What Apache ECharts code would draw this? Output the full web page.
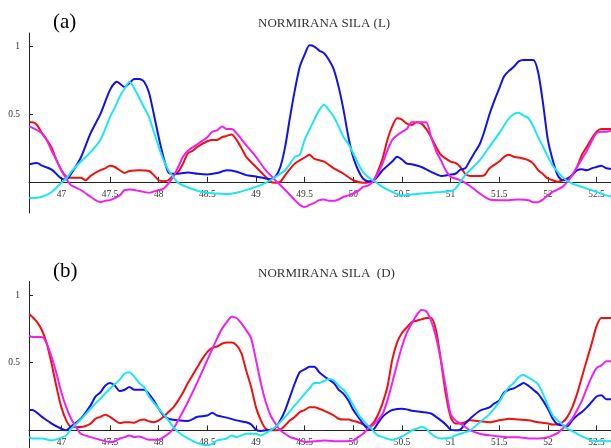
<!DOCTYPE html>
<html>
<head>
<meta charset="utf-8">
<script src="https://cdn.jsdelivr.net/npm/echarts@6/dist/echarts.min.js"></script>
<style>html,body{margin:0;padding:0;background:#fff}#c{width:611px;height:448px}</style>
</head>
<body>
<div id="c"></div>
<script>
const panelLabels = ['(a)', '(b)'];
const panelTitles = ['NORMIRANA SILA (L)', 'NORMIRANA SILA  (D)'];
const xTicks = [47, 47.5, 48, 48.5, 49, 49.5, 50, 50.5, 51, 51.5, 52, 52.5];
const yTicks = [0.5, 1];

// Panel (a)
const aBlue = [[46.67,0.13],[46.75,0.14],[46.8,0.12],[46.9,0.09],[47.0,0.025],[47.05,0.02],[47.1,0.06],[47.2,0.18],[47.3,0.36],[47.4,0.5],[47.5,0.68],[47.57,0.74],[47.65,0.7],[47.7,0.73],[47.75,0.76],[47.8,0.76],[47.85,0.74],[47.9,0.66],[47.95,0.5],[48.0,0.33],[48.05,0.18],[48.1,0.07],[48.15,0.06],[48.2,0.06],[48.3,0.07],[48.4,0.06],[48.5,0.055],[48.6,0.065],[48.7,0.085],[48.8,0.075],[48.9,0.05],[49.0,0.04],[49.1,0.025],[49.15,0.02],[49.2,0.04],[49.25,0.11],[49.3,0.26],[49.35,0.48],[49.4,0.68],[49.45,0.85],[49.5,0.94],[49.55,1.01],[49.6,1.0],[49.65,0.97],[49.7,0.95],[49.75,0.9],[49.8,0.83],[49.85,0.7],[49.9,0.53],[49.95,0.33],[50.0,0.18],[50.05,0.086],[50.1,0.025],[50.15,0.005],[50.2,0.007],[50.25,0.04],[50.3,0.086],[50.4,0.15],[50.45,0.185],[50.5,0.165],[50.55,0.135],[50.6,0.13],[50.7,0.11],[50.8,0.074],[50.9,0.044],[51.0,0.054],[51.05,0.06],[51.1,0.09],[51.15,0.1],[51.2,0.16],[51.25,0.22],[51.3,0.28],[51.35,0.38],[51.4,0.5],[51.45,0.6],[51.5,0.69],[51.55,0.78],[51.6,0.82],[51.65,0.85],[51.7,0.89],[51.75,0.9],[51.8,0.9],[51.85,0.9],[51.9,0.81],[51.95,0.58],[52.0,0.31],[52.05,0.16],[52.1,0.05],[52.15,0.012],[52.2,0.02],[52.25,0.05],[52.3,0.086],[52.35,0.094],[52.4,0.086],[52.45,0.1],[52.5,0.11],[52.55,0.12],[52.6,0.1],[52.7,0.094]];
const aCyan = [[46.67,-0.115],[46.7,-0.12],[46.8,-0.11],[46.9,-0.075],[47.0,-0.007],[47.05,0.025],[47.1,0.074],[47.2,0.15],[47.3,0.22],[47.4,0.31],[47.45,0.39],[47.5,0.48],[47.55,0.55],[47.6,0.63],[47.65,0.69],[47.7,0.74],[47.75,0.69],[47.8,0.62],[47.85,0.55],[47.9,0.48],[47.95,0.37],[48.0,0.26],[48.05,0.16],[48.1,0.086],[48.15,0.037],[48.2,-0.007],[48.3,-0.04],[48.4,-0.065],[48.5,-0.08],[48.6,-0.086],[48.7,-0.09],[48.8,-0.08],[48.9,-0.06],[49.0,-0.037],[49.1,-0.007],[49.15,0.012],[49.2,0.037],[49.3,0.086],[49.4,0.185],[49.45,0.2],[49.5,0.31],[49.6,0.46],[49.65,0.53],[49.7,0.57],[49.75,0.53],[49.8,0.48],[49.85,0.41],[49.9,0.33],[49.95,0.28],[50.0,0.21],[50.05,0.135],[50.1,0.074],[50.15,0.037],[50.2,0.012],[50.25,-0.012],[50.3,-0.037],[50.4,-0.074],[50.5,-0.1],[50.6,-0.094],[50.7,-0.086],[50.8,-0.08],[50.9,-0.074],[51.0,-0.067],[51.05,-0.05],[51.1,0.0],[51.15,0.05],[51.2,0.086],[51.3,0.16],[51.4,0.26],[51.5,0.36],[51.6,0.47],[51.65,0.5],[51.7,0.51],[51.75,0.49],[51.8,0.47],[51.85,0.41],[51.9,0.33],[51.95,0.26],[52.0,0.185],[52.05,0.12],[52.1,0.074],[52.15,0.037],[52.2,0.007],[52.25,-0.012],[52.3,-0.025],[52.4,-0.05],[52.5,-0.074],[52.6,-0.1],[52.7,-0.115]];
const aRed = [[46.67,0.44],[46.7,0.44],[46.75,0.42],[46.8,0.36],[46.85,0.31],[46.9,0.25],[46.95,0.16],[47.0,0.086],[47.05,0.04],[47.1,0.03],[47.2,0.03],[47.25,0.012],[47.3,0.044],[47.4,0.086],[47.45,0.1],[47.5,0.12],[47.55,0.11],[47.6,0.086],[47.65,0.066],[47.7,0.08],[47.8,0.086],[47.9,0.08],[47.95,0.05],[48.0,0.012],[48.05,0.005],[48.1,0.012],[48.15,0.05],[48.2,0.074],[48.25,0.135],[48.3,0.21],[48.35,0.23],[48.4,0.26],[48.5,0.3],[48.55,0.31],[48.6,0.31],[48.65,0.33],[48.7,0.34],[48.75,0.35],[48.8,0.31],[48.85,0.25],[48.9,0.185],[49.0,0.11],[49.1,0.037],[49.15,0.0],[49.2,-0.007],[49.25,0.0],[49.3,0.05],[49.4,0.135],[49.5,0.18],[49.55,0.2],[49.6,0.17],[49.7,0.15],[49.8,0.1],[49.9,0.06],[50.0,0.012],[50.1,-0.007],[50.2,0.005],[50.25,0.074],[50.3,0.17],[50.35,0.31],[50.4,0.41],[50.45,0.47],[50.5,0.46],[50.55,0.43],[50.6,0.42],[50.65,0.44],[50.7,0.43],[50.75,0.39],[50.8,0.33],[50.85,0.26],[50.9,0.2],[51.0,0.15],[51.05,0.14],[51.1,0.11],[51.15,0.06],[51.2,0.044],[51.3,0.044],[51.35,0.05],[51.4,0.1],[51.5,0.15],[51.55,0.185],[51.6,0.2],[51.65,0.185],[51.7,0.18],[51.8,0.16],[51.85,0.135],[51.9,0.086],[51.95,0.057],[52.0,0.025],[52.05,0.012],[52.1,0.0],[52.15,0.012],[52.2,0.025],[52.25,0.05],[52.3,0.11],[52.35,0.2],[52.4,0.26],[52.45,0.32],[52.5,0.37],[52.55,0.39],[52.6,0.39],[52.7,0.39]];
const aMagenta = [[46.67,0.41],[46.7,0.4],[46.8,0.36],[46.85,0.31],[46.9,0.23],[46.95,0.16],[47.0,0.086],[47.05,0.025],[47.1,-0.025],[47.2,-0.06],[47.3,-0.11],[47.35,-0.135],[47.4,-0.15],[47.45,-0.14],[47.5,-0.135],[47.6,-0.1],[47.65,-0.06],[47.7,-0.057],[47.8,-0.067],[47.9,-0.08],[48.0,-0.06],[48.05,-0.05],[48.1,-0.012],[48.15,0.037],[48.2,0.11],[48.25,0.185],[48.3,0.23],[48.4,0.28],[48.5,0.33],[48.55,0.37],[48.6,0.38],[48.65,0.41],[48.7,0.39],[48.75,0.39],[48.8,0.36],[48.9,0.27],[49.0,0.185],[49.1,0.086],[49.2,0.012],[49.3,-0.06],[49.4,-0.135],[49.45,-0.17],[49.5,-0.185],[49.55,-0.17],[49.6,-0.155],[49.65,-0.135],[49.7,-0.13],[49.75,-0.14],[49.8,-0.14],[49.85,-0.13],[49.9,-0.11],[49.95,-0.1],[50.0,-0.086],[50.05,-0.067],[50.1,-0.037],[50.15,-0.027],[50.2,0.0],[50.25,0.06],[50.3,0.135],[50.35,0.23],[50.4,0.31],[50.45,0.345],[50.5,0.37],[50.55,0.39],[50.6,0.44],[50.65,0.44],[50.7,0.44],[50.75,0.44],[50.8,0.33],[50.85,0.23],[50.9,0.16],[50.95,0.086],[51.0,0.037],[51.05,0.025],[51.1,0.012],[51.15,-0.007],[51.2,-0.03],[51.3,-0.086],[51.4,-0.13],[51.5,-0.135],[51.6,-0.135],[51.7,-0.13],[51.8,-0.135],[51.85,-0.15],[51.9,-0.15],[51.95,-0.13],[52.0,-0.1],[52.05,-0.074],[52.1,-0.057],[52.15,-0.037],[52.2,0.0],[52.25,0.05],[52.3,0.11],[52.35,0.17],[52.4,0.23],[52.45,0.3],[52.5,0.36],[52.55,0.37],[52.6,0.37],[52.7,0.39]];

// Panel (b)
const bBlue = [[46.67,0.15],[46.7,0.15],[46.8,0.1],[46.9,0.05],[47.0,0.012],[47.05,0.0],[47.1,0.03],[47.2,0.086],[47.3,0.185],[47.35,0.25],[47.4,0.28],[47.45,0.33],[47.5,0.35],[47.55,0.33],[47.6,0.29],[47.65,0.3],[47.7,0.32],[47.75,0.3],[47.8,0.3],[47.85,0.3],[47.9,0.27],[47.95,0.22],[48.0,0.16],[48.05,0.11],[48.1,0.086],[48.2,0.074],[48.3,0.07],[48.4,0.1],[48.5,0.11],[48.55,0.13],[48.6,0.11],[48.7,0.094],[48.8,0.074],[48.9,0.06],[48.95,0.044],[49.0,0.005],[49.05,-0.005],[49.1,0.0],[49.15,0.005],[49.2,0.02],[49.25,0.074],[49.3,0.15],[49.35,0.25],[49.4,0.35],[49.45,0.43],[49.5,0.45],[49.55,0.47],[49.6,0.47],[49.65,0.43],[49.7,0.4],[49.75,0.375],[49.8,0.35],[49.85,0.3],[49.9,0.27],[49.95,0.22],[50.0,0.15],[50.05,0.1],[50.1,0.05],[50.15,0.012],[50.2,0.005],[50.25,0.05],[50.3,0.1],[50.35,0.13],[50.4,0.15],[50.5,0.16],[50.55,0.155],[50.6,0.145],[50.7,0.136],[50.8,0.125],[50.85,0.1],[50.9,0.074],[50.95,0.044],[51.0,0.005],[51.05,0.0],[51.1,0.005],[51.15,0.05],[51.2,0.086],[51.3,0.145],[51.4,0.17],[51.45,0.2],[51.5,0.22],[51.55,0.28],[51.6,0.3],[51.65,0.31],[51.7,0.33],[51.75,0.35],[51.8,0.33],[51.85,0.3],[51.9,0.27],[51.95,0.22],[52.0,0.16],[52.05,0.086],[52.1,0.044],[52.15,0.037],[52.2,0.03],[52.25,0.074],[52.3,0.11],[52.35,0.136],[52.4,0.17],[52.45,0.21],[52.5,0.25],[52.55,0.26],[52.6,0.23],[52.7,0.23]];
const bCyan = [[46.67,-0.05],[46.7,-0.06],[46.8,-0.06],[46.9,-0.074],[47.0,-0.054],[47.05,-0.037],[47.1,0.012],[47.2,0.08],[47.3,0.16],[47.4,0.235],[47.5,0.31],[47.6,0.375],[47.65,0.42],[47.7,0.43],[47.75,0.395],[47.8,0.35],[47.85,0.32],[47.9,0.25],[48.0,0.16],[48.1,0.074],[48.15,0.025],[48.2,-0.012],[48.3,-0.06],[48.4,-0.094],[48.5,-0.11],[48.55,-0.1],[48.6,-0.074],[48.7,-0.06],[48.75,-0.037],[48.8,-0.05],[48.9,-0.025],[49.0,-0.025],[49.05,-0.037],[49.1,-0.02],[49.2,0.025],[49.3,0.1],[49.4,0.185],[49.5,0.27],[49.55,0.31],[49.6,0.35],[49.65,0.35],[49.7,0.365],[49.75,0.38],[49.8,0.37],[49.85,0.33],[49.9,0.3],[49.95,0.25],[50.0,0.185],[50.05,0.12],[50.1,0.074],[50.15,0.037],[50.2,0.0],[50.25,-0.037],[50.3,-0.05],[50.4,-0.07],[50.5,-0.045],[50.55,-0.025],[50.6,0.0],[50.65,0.012],[50.7,0.025],[50.75,0.012],[50.8,-0.025],[50.85,-0.05],[50.9,-0.06],[51.0,-0.054],[51.05,-0.037],[51.1,-0.025],[51.2,0.0],[51.3,0.06],[51.4,0.12],[51.5,0.21],[51.55,0.27],[51.6,0.32],[51.65,0.35],[51.7,0.395],[51.75,0.41],[51.8,0.39],[51.85,0.37],[51.9,0.34],[51.95,0.27],[52.0,0.185],[52.05,0.11],[52.1,0.074],[52.15,0.044],[52.2,0.012],[52.25,-0.005],[52.3,-0.025],[52.35,-0.045],[52.4,-0.06],[52.45,-0.074],[52.5,-0.08],[52.55,-0.074],[52.6,-0.08],[52.7,-0.074]];
const bRed = [[46.67,0.86],[46.7,0.84],[46.75,0.8],[46.8,0.74],[46.85,0.64],[46.9,0.49],[46.95,0.32],[47.0,0.17],[47.05,0.074],[47.1,0.025],[47.2,0.025],[47.3,0.05],[47.35,0.086],[47.4,0.1],[47.45,0.116],[47.5,0.1],[47.55,0.074],[47.6,0.054],[47.65,0.06],[47.7,0.06],[47.75,0.057],[47.8,0.074],[47.85,0.08],[47.9,0.067],[47.95,0.06],[48.0,0.074],[48.05,0.1],[48.1,0.136],[48.15,0.17],[48.2,0.22],[48.25,0.28],[48.3,0.35],[48.35,0.41],[48.4,0.47],[48.45,0.53],[48.5,0.58],[48.55,0.61],[48.6,0.62],[48.65,0.64],[48.7,0.65],[48.75,0.65],[48.8,0.63],[48.85,0.57],[48.9,0.44],[48.95,0.32],[49.0,0.17],[49.05,0.074],[49.1,0.012],[49.15,0.0],[49.2,0.0],[49.25,0.005],[49.3,0.037],[49.35,0.074],[49.4,0.1],[49.45,0.136],[49.5,0.15],[49.55,0.17],[49.6,0.17],[49.65,0.16],[49.7,0.145],[49.75,0.13],[49.8,0.11],[49.85,0.086],[49.9,0.08],[49.95,0.08],[50.0,0.07],[50.05,0.06],[50.1,0.044],[50.15,0.025],[50.2,0.05],[50.25,0.11],[50.3,0.2],[50.35,0.32],[50.4,0.52],[50.45,0.65],[50.5,0.72],[50.55,0.76],[50.6,0.8],[50.65,0.81],[50.7,0.82],[50.75,0.83],[50.8,0.83],[50.85,0.74],[50.9,0.52],[50.95,0.27],[51.0,0.1],[51.05,0.05],[51.1,0.05],[51.15,0.06],[51.2,0.074],[51.3,0.067],[51.4,0.06],[51.5,0.074],[51.55,0.08],[51.6,0.086],[51.7,0.08],[51.8,0.074],[51.9,0.06],[52.0,0.05],[52.05,0.044],[52.1,0.044],[52.15,0.06],[52.2,0.1],[52.25,0.17],[52.3,0.27],[52.35,0.395],[52.4,0.52],[52.45,0.64],[52.5,0.77],[52.55,0.83],[52.6,0.83],[52.7,0.83]];
const bMagenta = [[46.67,0.7],[46.7,0.69],[46.75,0.69],[46.8,0.69],[46.85,0.64],[46.9,0.54],[46.95,0.42],[47.0,0.28],[47.05,0.17],[47.1,0.086],[47.15,0.025],[47.2,-0.025],[47.3,-0.05],[47.4,-0.07],[47.5,-0.086],[47.55,-0.08],[47.6,-0.06],[47.65,-0.05],[47.7,-0.037],[47.75,-0.05],[47.8,-0.045],[47.9,-0.07],[48.0,-0.07],[48.05,-0.05],[48.1,-0.025],[48.15,0.012],[48.2,0.074],[48.3,0.21],[48.4,0.36],[48.5,0.52],[48.55,0.6],[48.6,0.68],[48.65,0.75],[48.7,0.8],[48.75,0.84],[48.8,0.83],[48.85,0.79],[48.9,0.74],[48.95,0.68],[49.0,0.52],[49.05,0.35],[49.1,0.21],[49.15,0.11],[49.2,0.05],[49.25,0.0],[49.3,-0.025],[49.35,-0.05],[49.4,-0.06],[49.5,-0.085],[49.6,-0.08],[49.7,-0.074],[49.8,-0.08],[49.9,-0.08],[50.0,-0.074],[50.05,-0.05],[50.1,-0.025],[50.15,0.012],[50.2,0.037],[50.25,0.074],[50.3,0.12],[50.35,0.22],[50.4,0.35],[50.45,0.49],[50.5,0.62],[50.55,0.72],[50.6,0.79],[50.65,0.85],[50.7,0.89],[50.75,0.88],[50.8,0.81],[50.85,0.69],[50.9,0.52],[50.95,0.32],[51.0,0.12],[51.05,0.074],[51.1,0.05],[51.15,0.025],[51.2,0.0],[51.3,-0.025],[51.4,-0.037],[51.5,-0.045],[51.6,-0.05],[51.7,-0.05],[51.8,-0.06],[51.9,-0.06],[52.0,-0.05],[52.05,-0.037],[52.1,-0.02],[52.15,0.012],[52.2,0.044],[52.25,0.086],[52.3,0.15],[52.35,0.22],[52.4,0.31],[52.45,0.395],[52.5,0.46],[52.55,0.48],[52.6,0.51],[52.7,0.51]];

const COLORS = {blue:'#1010f0', cyan:'#1ee6f0', red:'#f01010', magenta:'#f020f0'};
const panels = [
  {blue:aBlue, cyan:aCyan, red:aRed, magenta:aMagenta},
  {blue:bBlue, cyan:bCyan, red:bRed, magenta:bMagenta}
];
const gridTops = [33, 281.5];
const serif = '"Liberation Serif", "DejaVu Serif", serif';

const chart = echarts.init(document.getElementById('c'), null, {renderer:'canvas'});
const grids = [], xAxes = [], yAxes = [], series = [], titles = [];
panels.forEach((p, i) => {
  grids.push({left:29, top:gridTops[i], width:587, height:180, containLabel:false, outerBoundsMode:'none'});
  xAxes.push({
    type:'value', gridIndex:i, min:46.667, max:52.7,
    axisLine:{onZero:true, lineStyle:{color:'#222', width:1}},
    axisTick:{inside:true, length:5, lineStyle:{color:'#222'}, customValues:xTicks},
    axisLabel:{customValues:xTicks, color:'#333', fontFamily:serif, fontSize:9.5, margin:-24, formatter:v=>String(v)},
    splitLine:{show:false}
  });
  yAxes.push({
    type:'value', gridIndex:i, min:-0.23, max:1.1,
    axisLine:{show:true, onZero:false, lineStyle:{color:'#222', width:1}},
    axisTick:{show:true, inside:true, length:4, lineStyle:{color:'#222'}, customValues:yTicks},
    axisLabel:{customValues:yTicks, color:'#333', fontFamily:serif, fontSize:9.5, margin:9, formatter:v=>String(v)},
    splitLine:{show:false}
  });
  ['red','blue','magenta','cyan'].forEach(k => {
    series.push({
      type:'line', xAxisIndex:i, yAxisIndex:i, data:p[k], showSymbol:false, symbol:'none',
      smooth:0.25, lineStyle:{color:COLORS[k], width:2}, z:2, silent:true, clip:true
    });
  });
  titles.push({text:panelLabels[i], left:48, top:i===0?7:256, textStyle:{fontFamily:serif, fontSize:21, fontWeight:'normal', color:'#000'}});
  titles.push({text:panelTitles[i], left:253, top:i===0?12:262, textStyle:{fontFamily:serif, fontSize:13, fontWeight:'normal', color:'#333'}});
});

chart.setOption({
  animation:false,
  backgroundColor:'#fff',
  title:titles,
  grid:grids, xAxis:xAxes, yAxis:yAxes, series:series
});
</script>
</body>
</html>
